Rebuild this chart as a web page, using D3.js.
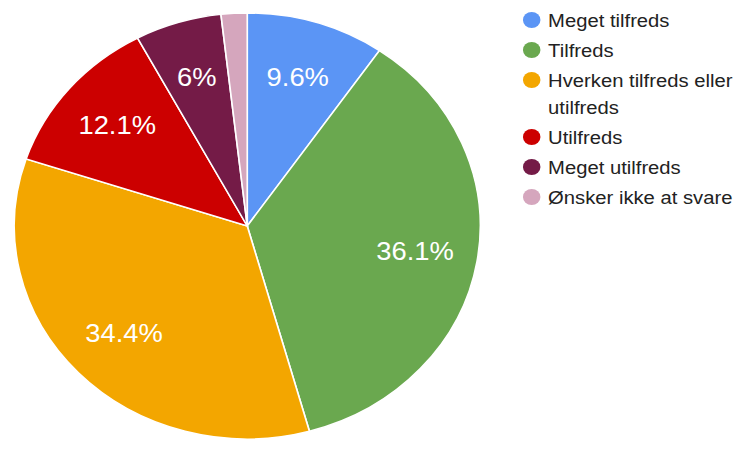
<!DOCTYPE html>
<html>
<head>
<meta charset="utf-8">
<script src="https://cdn.jsdelivr.net/npm/d3@7"></script>
<style>
  body { margin: 0; background: #fff; }
  svg { display: block; font-family: "Liberation Sans", Arial, sans-serif; }
</style>
</head>
<body>
<div id="chart"></div>
<script>
// chart data
var categories = ['Meget tilfreds', 'Tilfreds', 'Hverken tilfreds eller utilfreds', 'Utilfreds', 'Meget utilfreds', 'Ønsker ikke at svare'];
var legendLines = [['Meget tilfreds'], ['Tilfreds'], ['Hverken tilfreds eller', 'utilfreds'], ['Utilfreds'], ['Meget utilfreds'], ['Ønsker ikke at svare']];
var shares = [9.6, 36.1, 34.4, 12.1, 6, 1.8];
var sliceLabels = ['9.6%', '36.1%', '34.4%', '12.1%', '6%', ''];
var colors = ['#5b95f5', '#6aa84f', '#f3a600', '#cc0000', '#741b47', '#d5a6bd'];

var attrs = {
  svgWidth: 739,
  svgHeight: 450,
  stretchX: 1.094,   // source picture is a bit wider than tall
  cx: 226,
  cy: 226,
  radius: 213,
  labelRatio: 0.73,
  legendX: 486,
  legendY: 20,
  entryStep: 30,
  wrapStep: 27
};

var svg = d3.select('#chart').append('svg')
  .attr('width', attrs.svgWidth)
  .attr('height', attrs.svgHeight);

var root = svg.append('g').attr('transform', 'scale(' + attrs.stretchX + ',1)');

var color = d3.scaleOrdinal().domain(categories).range(colors);

var pie = d3.pie().sort(null).value(function (d) { return d.value; });
var arc = d3.arc().innerRadius(0).outerRadius(attrs.radius);
var labelArc = d3.arc()
  .innerRadius(attrs.radius * attrs.labelRatio)
  .outerRadius(attrs.radius * attrs.labelRatio);

var data = categories.map(function (c, i) { return { name: c, value: shares[i], label: sliceLabels[i] }; });

var pieG = root.append('g').attr('transform', 'translate(' + attrs.cx + ',' + attrs.cy + ')');

pieG.selectAll('path.slice')
  .data(pie(data))
  .enter().append('path')
  .attr('class', 'slice')
  .attr('d', arc)
  .attr('fill', function (d) { return color(d.data.name); })
  .attr('stroke', '#fff')
  .attr('stroke-width', 1.5);

pieG.selectAll('text.pct')
  .data(pie(data))
  .enter().append('text')
  .attr('class', 'pct')
  .attr('transform', function (d) {
    var p = labelArc.centroid(d);
    return 'translate(' + p[0] + ',' + p[1] + ')';
  })
  .attr('text-anchor', 'middle')
  .attr('dominant-baseline', 'central')
  .attr('fill', '#fff')
  .attr('font-size', 25)
  .text(function (d) { return d.data.label; });

// legend
var legend = root.append('g').attr('class', 'legend');
var y = attrs.legendY;
categories.forEach(function (c, i) {
  var item = legend.append('g');
  item.append('circle')
    .attr('cx', attrs.legendX)
    .attr('cy', y)
    .attr('r', 8)
    .attr('fill', color(c));
  legendLines[i].forEach(function (line, j) {
    item.append('text')
      .attr('x', attrs.legendX + 15)
      .attr('y', y + j * attrs.wrapStep)
      .attr('dominant-baseline', 'central')
      .attr('font-size', 18.5)
      .attr('fill', '#222')
      .text(line);
  });
  y += attrs.entryStep + (legendLines[i].length - 1) * attrs.wrapStep;
});
</script>
</body>
</html>
